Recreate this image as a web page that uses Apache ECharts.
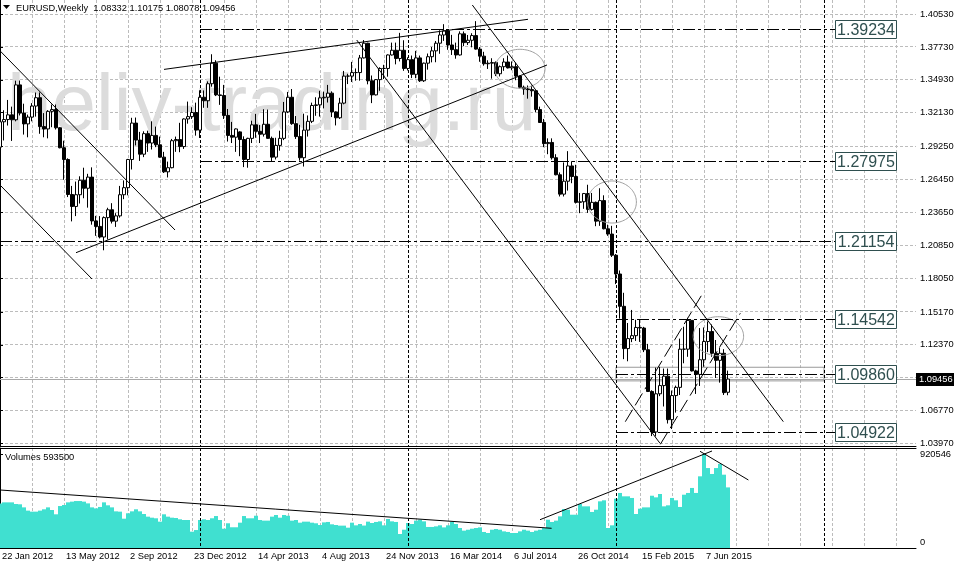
<!DOCTYPE html>
<html><head><meta charset="utf-8">
<script src="https://cdn.jsdelivr.net/npm/echarts@6/dist/echarts.min.js"></script>
<style>html,body{margin:0;padding:0;background:#fff}#c{width:954px;height:568px}</style>
</head><body><div id="c"></div>
<script>
const symbolName = 'EURUSD,Weekly';
// x-axis tick labels, one every 16 weekly bars starting at bar 0
const tickLabels = ['22 Jan 2012','13 May 2012','2 Sep 2012','23 Dec 2012','14 Apr 2013','4 Aug 2013','24 Nov 2013','16 Mar 2014','6 Jul 2014','26 Oct 2014','15 Feb 2015','7 Jun 2015'];
const priceLabels = [1.40530,1.37730,1.34930,1.32130,1.29250,1.26450,1.23650,1.20850,1.18050,1.15170,1.12370,1.06770,1.03970];
const priceGrid = [1.40530,1.37730,1.34930,1.32130,1.29250,1.26450,1.23650,1.20850,1.18050,1.15170,1.12370,1.09570,1.06770,1.03970];
const volumeLabels = [0, 920546];
const gridStep = 8;

// weekly bars [open, close, low, high]
const ohlc2012 = [
[1.2920,1.3136,1.2880,1.3166],[1.3136,1.3155,1.2977,1.3234],[1.3155,1.3195,1.3104,1.3322],[1.3195,1.3153,1.2973,1.3265],
[1.3153,1.3450,1.3140,1.3486],[1.3450,1.3210,1.3190,1.3487],[1.3210,1.3118,1.3027,1.3290],[1.3118,1.3176,1.3004,1.3197],
[1.3176,1.3270,1.3140,1.3295],[1.3270,1.3341,1.3180,1.3385],[1.3341,1.3095,1.3034,1.3386],[1.3095,1.3075,1.3004,1.3210],
[1.3075,1.3225,1.2995,1.3235],[1.3225,1.3240,1.3090,1.3283],[1.3240,1.3085,1.3070,1.3283],[1.3085,1.2915,1.2910,1.3090],
[1.2915,1.2815,1.2642,1.2975],[1.2815,1.2517,1.2495,1.2825],[1.2517,1.2415,1.2288,1.2590],[1.2415,1.2515,1.2333,1.2627],
[1.2515,1.2638,1.2440,1.2672],[1.2638,1.2570,1.2485,1.2745],[1.2570,1.2665,1.2405,1.2693],[1.2665,1.2292,1.2260,1.2748],
[1.2292,1.2245,1.2165,1.2335],[1.2245,1.2155,1.2143,1.2333],[1.2155,1.2320,1.2042,1.2330],[1.2320,1.2387,1.2134,1.2404],
[1.2387,1.2290,1.2270,1.2443],[1.2290,1.2335,1.2241,1.2358],[1.2335,1.2515,1.2320,1.2590],[1.2515,1.2575,1.2477,1.2637],
[1.2575,1.2815,1.2510,1.2820],[1.2815,1.3125,1.2730,1.3170],[1.3125,1.2980,1.2935,1.3172],[1.2980,1.2860,1.2803,1.3050],
[1.2860,1.3035,1.2835,1.3055],[1.3035,1.2955,1.2880,1.3060],[1.2955,1.3020,1.2900,1.3140],[1.3020,1.2940,1.2920,1.3095],
[1.2940,1.2835,1.2830,1.3010],[1.2835,1.2710,1.2700,1.2880],[1.2710,1.2745,1.2662,1.2797],[1.2745,1.2975,1.2740,1.2990],
[1.2975,1.2985,1.2880,1.3010],[1.2985,1.2925,1.2877,1.3127],[1.2925,1.3160,1.2905,1.3165],[1.3160,1.3180,1.3120,1.3308],
[1.3180,1.3215,1.3160,1.3260],[1.3215,1.3065,1.3018,1.3299]];
const ohlc2013 = [
[1.3065,1.3345,1.2998,1.3404],[1.3345,1.3315,1.3255,1.3403],[1.3315,1.3460,1.3255,1.3480],[1.3460,1.3635,1.3435,1.3711],
[1.3635,1.3365,1.3355,1.3660],[1.3365,1.3360,1.3280,1.3520],[1.3360,1.3190,1.3160,1.3450],[1.3190,1.3020,1.2968,1.3245],
[1.3020,1.3005,1.2955,1.3135],[1.3005,1.3075,1.2880,1.3080],[1.3050,1.2985,1.2843,1.3055],[1.2985,1.2815,1.2750,1.3012],
[1.2815,1.2995,1.2745,1.3000],[1.2995,1.3110,1.2955,1.3145],[1.3110,1.3055,1.3000,1.3203],[1.3055,1.3030,1.2955,1.3108],
[1.3030,1.3115,1.3010,1.3243],[1.3115,1.2995,1.2992,1.3240],[1.2995,1.2835,1.2796,1.3010],[1.2835,1.2935,1.2815,1.3000],
[1.2935,1.2995,1.2890,1.3060],[1.2995,1.3220,1.2980,1.3305],[1.3220,1.3345,1.3210,1.3390],[1.3345,1.3120,1.3110,1.3415],
[1.3120,1.3010,1.2990,1.3185],[1.3010,1.2830,1.2805,1.3110],[1.2830,1.3065,1.2755,1.3205],[1.3065,1.3140,1.3010,1.3190],
[1.3140,1.3275,1.3125,1.3299],[1.3275,1.3280,1.3187,1.3345],[1.3280,1.3340,1.3180,1.3400],[1.3340,1.3345,1.3250,1.3393],
[1.3345,1.3380,1.3300,1.3450],[1.3380,1.3220,1.3176,1.3395],[1.3220,1.3170,1.3105,1.3225],[1.3170,1.3295,1.3160,1.3340],
[1.3295,1.3525,1.3285,1.3569],[1.3525,1.3525,1.3457,1.3545],[1.3525,1.3555,1.3475,1.3646],[1.3555,1.3555,1.3486,1.3590],
[1.3555,1.3680,1.3486,1.3705],[1.3680,1.3805,1.3675,1.3832],[1.3805,1.3485,1.3455,1.3809],[1.3485,1.3365,1.3295,1.3530],
[1.3365,1.3495,1.3360,1.3500],[1.3495,1.3590,1.3400,1.3600],[1.3590,1.3590,1.3500,1.3621],[1.3590,1.3705,1.3520,1.3710],
[1.3705,1.3745,1.3700,1.3810],[1.3745,1.3675,1.3625,1.3810],[1.3675,1.3745,1.3650,1.3893],[1.3745,1.3590,1.3570,1.3830]];
const ohlc2014 = [
[1.3590,1.3665,1.3573,1.3685],[1.3665,1.3540,1.3508,1.3700],[1.3540,1.3680,1.3507,1.3740],[1.3680,1.3485,1.3475,1.3700],
[1.3485,1.3635,1.3475,1.3640],[1.3635,1.3690,1.3580,1.3717],[1.3690,1.3740,1.3642,1.3773],[1.3740,1.3805,1.3643,1.3824],
[1.3805,1.3875,1.3715,1.3915],[1.3875,1.3910,1.3825,1.3967],[1.3910,1.3790,1.3749,1.3925],[1.3790,1.3750,1.3705,1.3876],
[1.3750,1.3705,1.3673,1.3810],[1.3705,1.3885,1.3700,1.3906],[1.3885,1.3810,1.3780,1.3905],[1.3810,1.3830,1.3790,1.3875],
[1.3830,1.3870,1.3770,1.3890],[1.3870,1.3755,1.3750,1.3993],[1.3755,1.3695,1.3647,1.3772],[1.3695,1.3630,1.3614,1.3732],
[1.3630,1.3635,1.3586,1.3660],[1.3635,1.3640,1.3503,1.3677],[1.3640,1.3545,1.3525,1.3650],[1.3545,1.3605,1.3522,1.3615],
[1.3605,1.3645,1.3570,1.3677],[1.3645,1.3595,1.3590,1.3700],[1.3595,1.3605,1.3575,1.3650],[1.3605,1.3525,1.3490,1.3640],
[1.3525,1.3430,1.3420,1.3530],[1.3430,1.3415,1.3366,1.3444],[1.3415,1.3410,1.3333,1.3445],[1.3410,1.3400,1.3350,1.3444],
[1.3400,1.3240,1.3218,1.3402],[1.3240,1.3130,1.3129,1.3265],[1.3130,1.2950,1.2920,1.3160],[1.2950,1.2960,1.2860,1.2995],
[1.2960,1.2830,1.2814,1.2995],[1.2830,1.2685,1.2680,1.2860],[1.2685,1.2520,1.2500,1.2705],[1.2520,1.2630,1.2500,1.2790],
[1.2630,1.2760,1.2550,1.2886],[1.2760,1.2670,1.2613,1.2800],[1.2670,1.2450,1.2440,1.2770],[1.2450,1.2455,1.2358,1.2530],
[1.2455,1.2525,1.2395,1.2530],[1.2525,1.2390,1.2360,1.2600],[1.2390,1.2450,1.2380,1.2530],[1.2450,1.2290,1.2247,1.2457],
[1.2290,1.2465,1.2250,1.2570],[1.2465,1.2225,1.2220,1.2510],[1.2225,1.2180,1.2165,1.2260],[1.2180,1.2000,1.1985,1.2250]];
const ohlc2015 = [
[1.2000,1.1840,1.1754,1.2010],[1.1840,1.1565,1.1460,1.1870],[1.1565,1.1205,1.1115,1.1680],[1.1205,1.1290,1.1097,1.1423],
[1.1290,1.1315,1.1260,1.1534],[1.1315,1.1385,1.1270,1.1450],[1.1385,1.1380,1.1262,1.1450],[1.1380,1.1195,1.1175,1.1390],
[1.1195,1.0840,1.0835,1.1245],[1.0840,1.0495,1.0460,1.0850],[1.0495,1.0820,1.0457,1.1043],[1.0820,1.0890,1.0800,1.1050],
[1.0890,1.0970,1.0712,1.1035],[1.0970,1.0600,1.0567,1.1035],[1.0600,1.0805,1.0520,1.0848],[1.0805,1.0875,1.0660,1.0890],
[1.0875,1.1200,1.0810,1.1290],[1.1200,1.1200,1.1080,1.1391],[1.1200,1.1445,1.1135,1.1467],[1.1445,1.1015,1.1010,1.1445],
[1.1015,1.0985,1.0819,1.1025],[1.0985,1.1110,1.0887,1.1380],[1.1110,1.1265,1.1050,1.1385],[1.1265,1.1350,1.1175,1.1436],
[1.1350,1.1165,1.1135,1.1410],[1.1165,1.1105,1.0955,1.1278],[1.1105,1.1165,1.0915,1.1215],[1.1165,1.0830,1.0810,1.1200],
[1.08332,1.09456,1.08078,1.10175]];

// weekly tick volumes
const vol2012 = [437000,447000,447000,447000,431000,428000,398000,366000,356000,356000,366000,379000,398000,372000,330000,411000,421000,447000,454000,460000,460000,454000,437000,398000,388000,402000,447000,418000,398000,359000,356000,287000,340000,359000,379000,359000,333000,307000,297000,291000,258000,330000,307000,297000,294000,281000,274000,274000,160000,176000];
const vol2013 = [274000,281000,274000,291000,313000,274000,189000,242000,203000,203000,248000,313000,291000,291000,316000,274000,268000,268000,307000,323000,297000,323000,316000,268000,274000,248000,258000,258000,248000,242000,225000,251000,255000,232000,225000,219000,219000,199000,248000,222000,235000,220000,258000,245000,255000,261000,222000,284000,261000,255000,137000,179000];
const vol2014 = [245000,235000,268000,277000,261000,206000,206000,212000,222000,202000,222000,255000,235000,196000,170000,179000,189000,196000,202000,157000,147000,179000,186000,179000,163000,157000,147000,147000,163000,179000,170000,157000,170000,179000,196000,277000,255000,268000,310000,382000,375000,326000,326000,431000,408000,408000,353000,375000,457000,467000,196000,222000];
const vol2015 = [483000,539000,506000,506000,490000,333000,385000,398000,398000,512000,496000,529000,408000,418000,490000,467000,402000,522000,539000,588000,539000,702000,920546,783000,725000,783000,823000,718000,593500];

// drawn objects, in (bar index, price) units
const levelPrices = [1.39234, 1.27975, 1.21154, 1.14542, 1.09860, 1.04922];
const levelStarts = [50, 50, 0, 154, 154, 154];
const levelEnd = 208.75;
const separators = [50, 102, 154, 206];
const trendLines = [
  [0, 1.37404, 43.75, 1.22147], [0, 1.25978, 23, 1.17975],
  [41, 1.35820, 132, 1.40086], [19, 1.20214, 136.75, 1.36195],
  [89.18, 1.38323, 165, 1.03987], [118.08, 1.41303, 195.83, 1.05826]];
const channelLines = [[156.33, 1.05826, 175.93, 1.16894], [165.08, 1.03901, 185.08, 1.15055]];
const zoneBox = [154, 1.0930, 206, 1.1046];
const ellipses = [[130, 1.35871, 6.25, 0.0166], [153, 1.24531, 6.1, 0.0179], [179.6, 1.13105, 6.3, 0.0166]];
const volumeLines = [[0, 568000, 137.9, 193000], [135, 277000, 178, 950000], [175, 947000, 187.1, 666000]];

const X_MAX = 229, P_MIN = 1.03756, P_MAX = 1.41729, V_MAX = 979300;
const candles = [].concat(ohlc2012, ohlc2013, ohlc2014, ohlc2015);
const volumes = [].concat(vol2012, vol2013, vol2014, vol2015);
const candleData = candles.map((d, i) => [i, d[0], d[1], d[2], d[3]]);
const volData = volumes.map((v, i) => [i, v]);
const last = candles[candles.length - 1];
const bid = last[1];
const xGrid = [];
for (let v = gridStep; v < X_MAX; v += gridStep) xGrid.push(v);

const FONT = '"Liberation Sans", Arial, sans-serif';
const SMALL = 9.3;
const GRID_STYLE = {stroke: '#bcbcbc', lineWidth: 1, lineDash: [3, 2], fill: null};
const SEP_STYLE = {stroke: '#000', lineWidth: 1, lineDash: [3, 2], fill: null};
const seg = (t, extra) => [Object.assign({coord: [t[0], t[1]]}, extra || {}), {coord: [t[2], t[3]]}];
const crisp = v => Math.round(v - 0.5) + 0.5;

// vertical lines at given bar positions, spanning the whole pane
function vLineSeries(xi, yi, xs, style, z) {
  return {type: 'custom', xAxisIndex: xi, yAxisIndex: yi, silent: true, z: z, clip: false,
    data: xs.map(v => [v, 0]),
    renderItem: (params, api) => {
      const cs = params.coordSys;
      const x = crisp(api.coord([api.value(0), 0])[0]);
      return {type: 'line', shape: {x1: x, y1: cs.y, x2: x, y2: cs.y + cs.height}, style: style};
    }};
}
// horizontal grid lines at given prices, spanning the whole pane
function hLineSeries(xi, yi, ys, style, z) {
  return {type: 'custom', xAxisIndex: xi, yAxisIndex: yi, silent: true, z: z, clip: false,
    data: ys.map(v => [0, v]),
    renderItem: (params, api) => {
      const cs = params.coordSys;
      const y = crisp(api.coord([0, api.value(1)])[1]);
      return {type: 'line', shape: {x1: cs.x, y1: y, x2: cs.x + cs.width, y2: y}, style: style};
    }};
}

const chart = echarts.init(document.getElementById('c'), null, {renderer: 'canvas'});
chart.setOption({
  animation: false,
  backgroundColor: '#fff',
  textStyle: {fontFamily: FONT},
  grid: [
    {left: 0, top: 0, width: 916, height: 446, outerBoundsMode: 'none', containLabel: false},
    {left: 0, top: 448, width: 916, height: 100, outerBoundsMode: 'none', containLabel: false}
  ],
  xAxis: [
    {gridIndex: 0, type: 'value', min: 0, max: X_MAX, interval: gridStep,
     axisLine: {show: true, onZero: false, lineStyle: {color: '#000', width: 1}},
     axisTick: {show: false}, axisLabel: {show: false}, splitLine: {show: false}},
    {gridIndex: 1, type: 'value', min: 0, max: X_MAX, interval: gridStep, position: 'bottom',
     axisLine: {show: true, onZero: false, lineStyle: {color: '#000', width: 1}},
     axisTick: {show: false},
     axisLabel: {show: true, formatter: v => (v % 16 === 0 && tickLabels[v / 16]) || '',
       align: 'left', margin: 4, fontSize: SMALL, color: '#000', fontFamily: FONT,
       showMinLabel: true, showMaxLabel: false, hideOverlap: false, padding: [0, 0, 0, 2]},
     splitLine: {show: false}},
    {gridIndex: 1, type: 'value', min: 0, max: X_MAX, position: 'top',
     axisLine: {show: true, onZero: false, lineStyle: {color: '#000', width: 1}},
     axisTick: {show: false}, axisLabel: {show: false}, splitLine: {show: false}}
  ],
  yAxis: [
    {gridIndex: 0, type: 'value', position: 'right', min: P_MIN, max: P_MAX, scale: true,
     axisLine: {show: true, lineStyle: {color: '#000', width: 1}},
     axisTick: {show: true, length: 3, customValues: priceGrid, lineStyle: {color: '#000'}},
     axisLabel: {customValues: priceLabels, formatter: v => v.toFixed(5), margin: 4,
       fontSize: SMALL, color: '#000', fontFamily: FONT, hideOverlap: false},
     splitLine: {show: false}},
    {gridIndex: 1, type: 'value', position: 'right', min: 0, max: V_MAX,
     axisLine: {show: true, lineStyle: {color: '#000', width: 1}},
     axisTick: {show: true, length: 3, customValues: volumeLabels, lineStyle: {color: '#000'}},
     axisLabel: {customValues: volumeLabels, margin: 4, fontSize: SMALL, color: '#000', fontFamily: FONT,
       formatter: v => v === 0 ? '{z|0}' : String(v), hideOverlap: false,
       rich: {z: {padding: [0, 0, 12, 0], fontSize: SMALL, color: '#000', fontFamily: FONT}}},
     splitLine: {show: false}}
  ],
  graphic: [
    {type: 'text', z: 1, silent: true, style: {text: 'heliy-trading.ru', x: 7, y: 108,
      font: '80px "Liberation Sans", Arial, sans-serif', fill: '#dcdcdc', verticalAlign: 'middle', align: 'left'}},
    {type: 'polygon', z: 5, silent: true, shape: {points: [[3, 5], [10, 5], [6.5, 9]]}, style: {fill: '#000'}},
    {type: 'text', z: 5, silent: true, style: {
      text: symbolName + '  ' + [last[0], last[3], last[2], last[1]].map(v => v.toFixed(5)).join(' '),
      x: 16, y: 8, font: SMALL + 'px "Liberation Sans", Arial, sans-serif', fill: '#000', verticalAlign: 'middle'}},
    {type: 'text', z: 5, silent: true, style: {text: 'Volumes ' + volumes[volumes.length - 1],
      x: 5, y: 457, font: SMALL + 'px "Liberation Sans", Arial, sans-serif', fill: '#000', verticalAlign: 'middle'}}
  ],
  series: [
    vLineSeries(0, 0, xGrid, GRID_STYLE, 0),
    hLineSeries(0, 0, priceGrid, GRID_STYLE, 0),
    vLineSeries(1, 1, xGrid, GRID_STYLE, 0),
    vLineSeries(0, 0, separators, SEP_STYLE, 2),
    vLineSeries(1, 1, separators, SEP_STYLE, 3),
    // bid line with its price tag on the axis
    {type: 'custom', xAxisIndex: 0, yAxisIndex: 0, silent: true, z: 2, clip: false,
     data: [[0, bid]],
     renderItem: (params, api) => {
       const cs = params.coordSys;
       const y = crisp(api.coord([0, api.value(1)])[1]);
       const right = cs.x + cs.width;
       return {type: 'group', children: [
         {type: 'line', shape: {x1: cs.x, y1: y, x2: right, y2: y}, style: {stroke: '#a8a8a8', lineWidth: 1}},
         {type: 'rect', shape: {x: right, y: y - 6.5, width: 38, height: 13}, style: {fill: '#000'}},
         {type: 'text', style: {text: api.value(1).toFixed(5), x: right + 3, y: y, fill: '#fff',
           font: SMALL + 'px "Liberation Sans", Arial, sans-serif', verticalAlign: 'middle'}}
       ]};
     }},
    // horizontal price levels with framed price labels
    {type: 'custom', xAxisIndex: 0, yAxisIndex: 0, silent: true, z: 5, clip: false,
     data: levelPrices.map((p, k) => [levelStarts[k], p, levelEnd]),
     renderItem: (params, api) => {
       const a = api.coord([api.value(0), api.value(1)]);
       const b = api.coord([api.value(2), api.value(1)]);
       const y = crisp(a[1]);
       const xe = Math.round(b[0]);
       return {type: 'group', children: [
         {type: 'line', shape: {x1: a[0], y1: y, x2: xe, y2: y},
          style: {stroke: '#000', lineWidth: 1, lineDash: [12, 3, 3, 3], fill: null}},
         {type: 'rect', shape: {x: xe + 0.5, y: y - 9, width: 61, height: 18},
          style: {fill: '#fff', stroke: '#2f4f4f', lineWidth: 1}},
         {type: 'text', style: {text: api.value(1).toFixed(5), x: xe + 31, y: y + 1, fill: '#2f4f4f',
           font: '16px "Liberation Sans", Arial, sans-serif', align: 'center', verticalAlign: 'middle'}}
       ]};
     }},
    {type: 'candlestick', xAxisIndex: 0, yAxisIndex: 0, data: candleData, barWidth: 3, z: 3, silent: true,
     itemStyle: {color: '#fff', color0: '#000', borderColor: '#000', borderColor0: '#000', borderWidth: 1},
     markArea: {silent: true, itemStyle: {color: 'rgba(0,0,0,0)', borderColor: '#999', borderWidth: 1},
       data: [[{coord: [zoneBox[0], zoneBox[1]]}, {coord: [zoneBox[2], zoneBox[3]]}]]},
     markLine: {silent: true, symbol: ['none', 'none'], animation: false, label: {show: false},
       lineStyle: {color: '#000', width: 1, type: 'solid'},
       data: [].concat(
         trendLines.map(t => seg(t, {lineStyle: {color: '#000', width: 1, type: 'solid'}})),
         channelLines.map(t => seg(t, {lineStyle: {color: '#000', width: 1, type: [14, 5]}}))
       )}
    },
    {type: 'custom', xAxisIndex: 0, yAxisIndex: 0, silent: true, z: 4, data: ellipses,
     renderItem: (params, api) => {
       const c = api.coord([api.value(0), api.value(1)]);
       const s = api.size([api.value(2), api.value(3)]);
       const pts = [];
       for (let k = 0; k < 90; k++) {
         const a = k / 90 * Math.PI * 2;
         pts.push([c[0] + s[0] * Math.cos(a), c[1] + s[1] * Math.sin(a)]);
       }
       return {type: 'polygon', shape: {points: pts}, style: {fill: 'none', stroke: '#a0a0a0', lineWidth: 1}};
     }},
    {type: 'bar', xAxisIndex: 1, yAxisIndex: 1, data: volData, barWidth: 4, silent: true, z: 2,
     itemStyle: {color: '#40E0D0'},
     markLine: {silent: true, symbol: ['none', 'none'], animation: false, label: {show: false},
       data: volumeLines.map(t => seg(t, {lineStyle: {color: '#000', width: 1, type: 'solid'}}))}
    }
  ]
});
</script></body></html>
